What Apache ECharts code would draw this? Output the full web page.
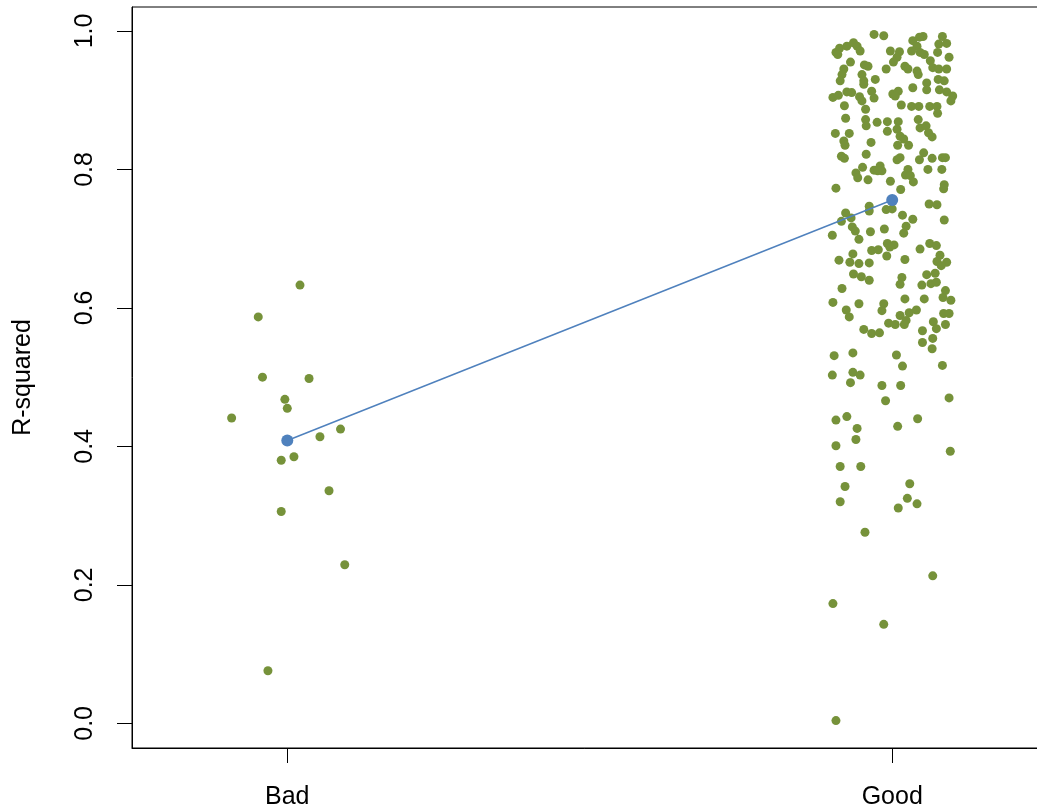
<!DOCTYPE html>
<html><head><meta charset="utf-8">
<script src="https://cdn.jsdelivr.net/npm/echarts@6/dist/echarts.min.js"></script>
<style>html,body{margin:0;padding:0;background:#fff}#c{width:1037px;height:811px}</style>
</head><body><div id="c"></div>
<script>
// ---- data ----
const categories = ['Bad', 'Good'];
const yTicks = [0, 0.2, 0.4, 0.6, 0.8, 1.0];
const meanValues = [0.4085, 0.7558];

const badX = [1.021,0.952,0.959,1.036,0.996,1.000,0.908,1.088,1.054,1.011,0.990,1.069,0.990,1.095,0.968];
const badY = [0.633,0.587,0.500,0.498,0.468,0.455,0.441,0.425,0.414,0.385,0.380,0.336,0.306,0.229,0.076];

const goodX = [
1.970,1.986,2.051,2.045,2.083,1.907,1.913,1.925,1.936,1.942,
1.947,1.910,2.034,2.041,2.032,2.046,2.053,2.077,2.090,2.075,
1.997,2.012,2.008,2.002,1.931,1.954,1.960,1.920,1.917,1.914,
1.950,1.953,1.953,1.990,2.021,2.026,2.041,2.043,2.063,2.067,
2.077,2.090,2.094,1.972,2.076,2.086,2.057,2.057,2.034,1.902,
1.911,1.925,1.933,1.946,1.950,1.956,1.966,1.970,2.001,2.010,
2.005,2.078,2.090,2.100,2.097,1.921,2.015,2.032,2.044,2.062,
2.074,2.075,1.923,1.956,1.957,1.975,1.992,1.992,2.010,2.008,
2.013,2.019,2.043,2.046,2.056,2.060,2.066,1.906,1.929,1.920,
1.922,1.965,
2.009,2.027,1.916,1.921,1.957,2.008,2.013,2.052,2.045,2.066,2.083,2.088,
1.951,1.940,1.943,1.970,1.980,1.983,1.976,1.960,2.026,2.022,2.030,2.035,2.059,2.082,
1.997,1.907,2.014,2.086,2.085,2.061,2.074,1.962,1.962,1.990,2.000,1.923,1.916,1.932,
2.017,2.034,2.086,1.934,1.939,2.023,2.019,1.987,1.901,1.964,1.945,1.992,2.003,1.996,
1.966,1.977,2.062,2.073,2.046,1.935,1.991,2.021,1.912,1.930,1.945,1.962,2.079,2.074,
2.090,2.081,
1.936,1.949,1.962,1.917,2.016,2.013,2.057,2.071,2.049,2.064,2.073,2.088,1.902,1.945,
1.986,1.983,2.021,2.053,2.084,2.097,1.924,1.929,2.013,2.028,2.040,2.023,2.020,1.994,
2.005,2.085,2.094,2.068,2.073,2.088,1.953,1.966,1.979,2.050,2.067,2.050,2.066,1.904,
1.935,2.007,2.017,2.083,1.901,1.935,1.947,
1.931,1.983,2.014,2.094,1.989,1.907,1.925,1.942,2.009,2.042,1.940,1.907,2.096,
1.914,1.948,1.922,2.029,1.914,2.025,2.041,2.010,
1.955,2.067,1.902,1.986,1.907
];
const goodY = [
0.995,0.993,0.992,0.991,0.992,0.969,0.975,0.978,0.983,0.978,
0.971,0.966,0.986,0.978,0.971,0.969,0.966,0.981,0.982,0.969,
0.971,0.970,0.962,0.955,0.955,0.951,0.949,0.945,0.937,0.928,
0.937,0.928,0.923,0.945,0.949,0.945,0.942,0.937,0.957,0.947,
0.945,0.945,0.962,0.930,0.930,0.928,0.925,0.915,0.918,0.904,
0.907,0.912,0.911,0.905,0.899,0.887,0.913,0.903,0.909,0.913,
0.906,0.915,0.912,0.906,0.899,0.892,0.893,0.891,0.891,0.891,
0.891,0.881,0.874,0.872,0.863,0.868,0.869,0.855,0.869,0.858,
0.848,0.844,0.872,0.860,0.863,0.853,0.847,0.852,0.852,0.841,
0.835,0.839,
0.835,0.835,0.819,0.816,0.822,0.814,0.817,0.824,0.814,0.816,0.817,0.817,
0.803,0.795,0.788,0.799,0.805,0.798,0.798,0.785,0.800,0.792,0.791,0.782,0.800,0.800,
0.783,0.773,0.771,0.778,0.772,0.750,0.749,0.747,0.740,0.742,0.743,0.737,0.725,0.730,
0.734,0.728,0.727,0.717,0.711,0.718,0.708,0.714,0.705,0.710,0.699,0.693,0.691,0.688,
0.683,0.684,0.693,0.690,0.685,0.678,0.675,0.670,0.669,0.666,0.664,0.665,0.676,0.667,
0.666,0.661,
0.649,0.645,0.640,0.628,0.644,0.634,0.648,0.650,0.633,0.635,0.637,0.625,0.608,0.606,
0.606,0.596,0.613,0.613,0.615,0.611,0.597,0.587,0.589,0.593,0.597,0.582,0.576,0.578,
0.576,0.592,0.592,0.580,0.570,0.576,0.569,0.563,0.564,0.567,0.556,0.550,0.541,0.531,
0.535,0.532,0.516,0.517,0.503,0.507,0.503,
0.492,0.488,0.488,0.470,0.466,0.438,0.443,0.426,0.429,0.440,0.410,0.401,0.393,
0.371,0.371,0.342,0.346,0.320,0.325,0.317,0.311,
0.276,0.213,0.173,0.143,0.004
];

// ---- chart ----
const FONT = "'Liberation Sans', Arial, Helvetica, sans-serif";
const GREEN = '#76923A';
const BLUE = '#4F81BD';

const pointsData = badX.map((x, i) => [x, badY[i]]).concat(goodX.map((x, i) => [x, goodY[i]]));
const meanData = categories.map((c, i) => [i + 1, meanValues[i]]);

const chart = echarts.init(document.getElementById('c'), null, {renderer: 'canvas'});
chart.setOption({
  animation: false,
  backgroundColor: '#ffffff',
  grid: {
    left: 132, top: 7, bottom: 63, right: -10.5,
    show: true, borderColor: '#000', borderWidth: 1, backgroundColor: 'transparent',
    containLabel: false, outerBoundsMode: 'none'
  },
  xAxis: {
    type: 'value', min: 0.7433, max: 2.2567,
    splitLine: {show: false},
    axisLine: {show: true, onZero: false, lineStyle: {color: '#000', width: 1}},
    axisTick: {show: true, customValues: [1, 2], length: 15, lineStyle: {color: '#000', width: 1}},
    axisLabel: {
      customValues: [1, 2], margin: 37, color: '#000', fontFamily: FONT, fontSize: 25,
      formatter: v => categories[Math.round(v) - 1] || ''
    }
  },
  yAxis: {
    type: 'value', min: -0.0356, max: 1.0346,
    name: 'R-squared', nameLocation: 'middle', nameGap: 96, nameRotate: 90,
    nameTextStyle: {color: '#000', fontFamily: FONT, fontSize: 25},
    splitLine: {show: false},
    axisLine: {show: true, onZero: false, lineStyle: {color: '#000', width: 1}},
    axisTick: {show: true, customValues: yTicks, length: 15, lineStyle: {color: '#000', width: 1}},
    axisLabel: {
      customValues: yTicks, rotate: 90, margin: 34, color: '#000', fontFamily: FONT, fontSize: 25,
      formatter: v => v.toFixed(1)
    }
  },
  series: [
    {
      type: 'scatter', data: pointsData, symbol: 'circle', symbolSize: 9,
      itemStyle: {color: GREEN, opacity: 1}, z: 2, silent: true
    },
    {
      type: 'line', data: meanData, symbol: 'circle', symbolSize: 12, showSymbol: true,
      lineStyle: {color: BLUE, width: 1.5}, itemStyle: {color: BLUE, opacity: 1}, z: 3, silent: true
    }
  ]
});
</script>
</body></html>
